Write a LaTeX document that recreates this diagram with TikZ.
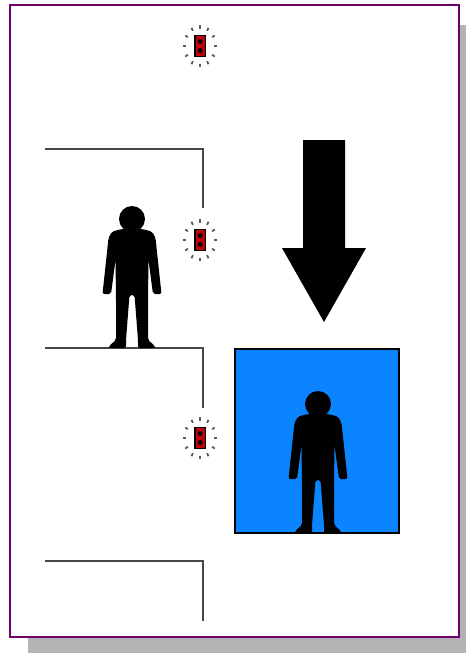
\documentclass[tikz,border=0pt]{standalone}
\definecolor{framepurple}{RGB}{110,0,110}
\definecolor{shadowgray}{RGB}{179,179,179}
\definecolor{carblue}{RGB}{10,132,255}
\definecolor{lampred}{RGB}{190,0,10}
\tikzset{
  floorline/.style={black!72, line width=2.2pt},
  person/.pic={
    \fill[black] (0,-129) circle (13);
    \fill[black, rounded corners=2pt] (-10,-119) -- (-20,-116.5) -- (-23.5,-110) -- (-29.5,-54) -- (-21,-54)
      -- (-16.5,-88) -- (-16,-50) -- (-16,-8) -- (-23,-2) -- (-23,0) -- (-6,0) -- (-6,-8) -- (-2.5,-53)
      -- (2.5,-53) -- (6,-8) -- (6,0) -- (23,0) -- (23,-2) -- (16,-8) -- (16,-50) -- (16.5,-88)
      -- (21,-54) -- (29.5,-54) -- (23.5,-110) -- (20,-116.5) -- (10,-119) -- cycle;
  },
  lamp/.pic={
    \foreach \angle in {0,30,...,330} {
      \draw[black!65, line width=1.8pt] ({14*cos(\angle)},{17.5*sin(\angle)}) -- ({17*cos(\angle)},{21*sin(\angle)});
    }
    \draw[black, fill=lampred, line width=1.3pt] (-5,-10.5) rectangle (5.5,10.5);
    \fill[black] (0.2,-4.5) circle (2.4);
    \fill[black] (0.2,4.5) circle (2.4);
  }
}

\begin{document}
\begin{tikzpicture}[x=1pt, y=-1pt]
    \useasboundingbox (0,0) rectangle (466,653);

    % shadow and frame
    \fill[shadowgray] (28,25) rectangle (466,653);
    \draw[framepurple, line width=2.6pt, fill=white] (10,5) rectangle (459,637);

    % floors
    \draw[floorline] (45,149) -- (203,149) -- (203,208);
    \draw[floorline] (45,348) -- (203,348) -- (203,408);
    \draw[floorline] (45,561) -- (203,561) -- (203,621);

    % call lamps
    \pic at (200,46) {lamp};
    \pic at (200,240) {lamp};
    \pic at (200,438) {lamp};

    % car
    \draw[black, line width=1.2pt, fill=carblue] (235,349) rectangle (399,533);

    \pic at (132,348) {person};
    \pic at (318,533) {person};

    % direction
    \fill[black] (303,140) -- (345,140) -- (345,248) -- (366,248) -- (324,322) -- (282,248) -- (303,248) -- cycle;
\end{tikzpicture}
\end{document}
